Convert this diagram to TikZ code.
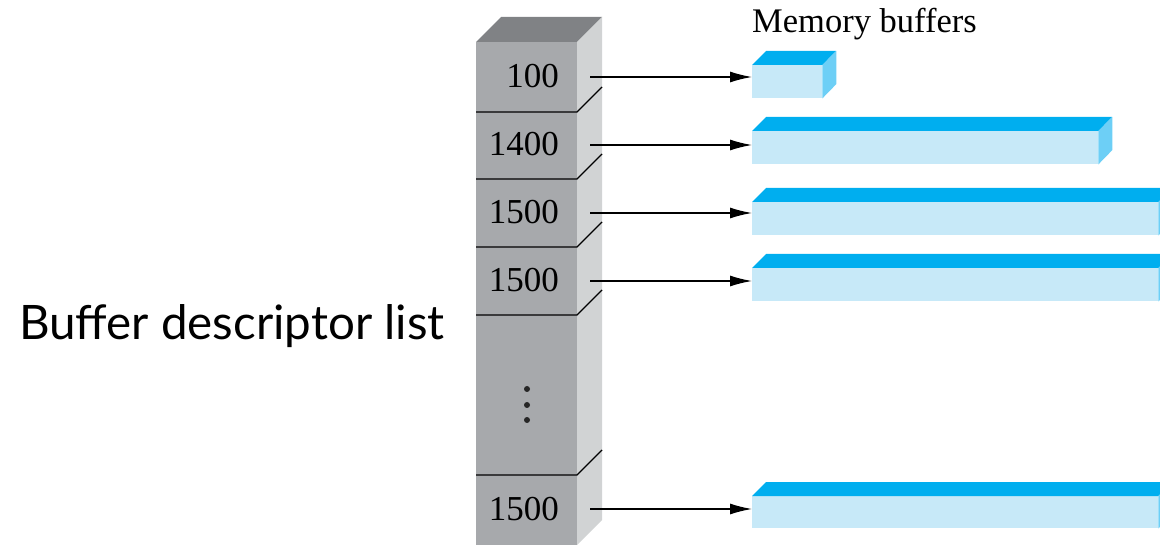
\documentclass[tikz,border=0pt]{standalone}
\usepackage{fontspec}
\setmainfont{Liberation Serif}
\newfontfamily\labelfont{Lato}
\usetikzlibrary{arrows.meta}
\definecolor{colfront}{HTML}{A7A9AC}
\definecolor{coltop}{HTML}{808285}
\definecolor{colside}{HTML}{D1D3D4}
\definecolor{buftop}{HTML}{00AEEF}
\definecolor{buffront}{HTML}{C7E9F8}
\definecolor{bufside}{HTML}{6DCFF6}
\tikzset{
  cell/.style={rectangle, fill=colfront, inner sep=0pt, minimum width=101pt, anchor=north west},
  num/.style={anchor=base east, inner sep=0pt, font=\fontsize{35}{35}\selectfont},
  divider/.style={line width=1.4pt, black},
  buf/.style={rectangle, fill=buffront, inner sep=0pt, anchor=north west},
  arr/.style={line width=1.4pt, -{Latex[length=22pt, width=11pt]}},
  dot/.style={circle, fill=black!85, inner sep=0pt, minimum size=6pt}
}
\begin{document}
\begin{tikzpicture}[x=1pt, y=-1pt]
\useasboundingbox (0,0) rectangle (1160,545);
% column
\fill[coltop] (476,42) -- (501,17) -- (602,17) -- (577,42) -- cycle;
\fill[colside] (577,42) -- (602,17) -- (602,520) -- (577,545) -- cycle;
\node[cell, minimum height=70pt] (c1) at (476,42) {};
\node[cell, minimum height=67pt] (c2) at (476,112) {};
\node[cell, minimum height=68pt] (c3) at (476,179) {};
\node[cell, minimum height=68pt] (c4) at (476,247) {};
\node[cell, minimum height=160pt] (c5) at (476,315) {};
\node[cell, minimum height=70pt] (c6) at (476,475) {};
% dividers
\foreach \yy in {112,179,247,315,475} {
  \draw[divider] (476,\yy) -- (577,\yy) -- (602,\yy-25);
}
% numbers
\node[num] (n1) at (559,88) {100};
\node[num] (n2) at (559,156) {1400};
\node[num] (n3) at (559,224) {1500};
\node[num] (n4) at (559,292) {1500};
\node[num] (n6) at (559,520) {1500};
% dots
\node[dot] (d1) at (527,389) {};
\node[dot] (d2) at (527,405) {};
\node[dot] (d3) at (527,420) {};
% buffers
\newcommand{\bufbox}[4]{%
  \node[buf, minimum width=#3pt, minimum height=#4pt] (#1) at (752,#2) {};
  \fill[buftop] (#1.north west) -- ++(14,-14) -- ++(#3,0) -- (#1.north east) -- cycle;
  \fill[bufside] (#1.north east) -- ++(14,-14) -- ++(0,#4) -- (#1.south east) -- cycle;
}
\bufbox{b1}{65}{70}{33}
\bufbox{b2}{131}{346}{33}
\bufbox{b3}{202}{406}{33}
\bufbox{b4}{268}{406}{33}
\bufbox{b5}{496}{406}{32}
% arrows
\coordinate (s1) at (590,77);
\coordinate (s2) at (590,145);
\coordinate (s3) at (590,213);
\coordinate (s4) at (590,281);
\coordinate (s6) at (590,509);
\draw[arr] (s1) -- (s1 -| b1.west);
\draw[arr] (s2) -- (s2 -| b2.west);
\draw[arr] (s3) -- (s3 -| b3.west);
\draw[arr] (s4) -- (s4 -| b4.west);
\draw[arr] (s6) -- (s6 -| b5.west);
% labels
\node[anchor=base west, inner sep=0pt, font=\fontsize{34.5}{34.5}\selectfont] (mb) at (752,33) {Memory buffers};
\node[anchor=base west, inner sep=0pt, font=\labelfont\fontsize{47.5}{47.5}\selectfont] (bdl) at (19,340) {Buffer descriptor list};
\end{tikzpicture}
\end{document}
